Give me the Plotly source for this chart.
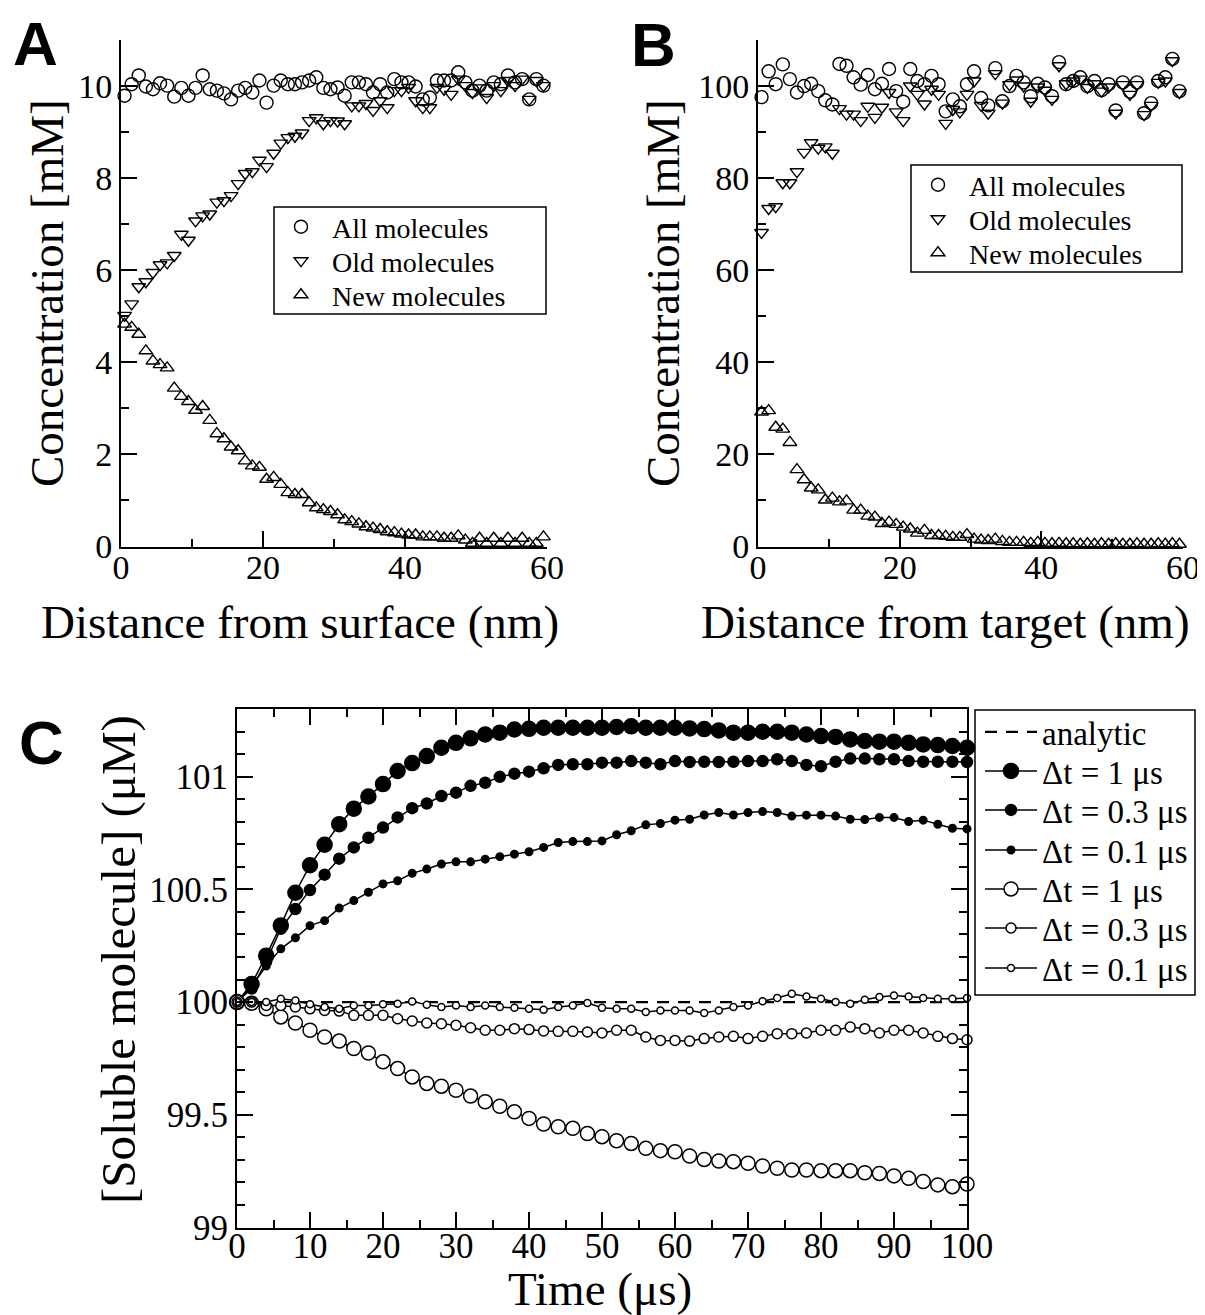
import numpy as np
import plotly.graph_objects as go

# ------------------------------- DATA -------------------------------- #
# Panel A : concentration (mM) vs distance from surface (nm), 1 nm bins
dist_a = np.arange(0.5, 60, 1.0)
conc_all_a = [9.79, 10.04, 10.23, 9.99, 9.93, 10.06, 10.01, 9.77, 9.96, 9.79,
              9.96, 10.23, 9.93, 9.90, 9.84, 9.71, 9.90, 9.96, 9.86, 10.12,
              9.64, 10.01, 10.12, 10.04, 10.04, 10.08, 10.12, 10.19, 9.96, 9.93,
              9.97, 9.79, 10.08, 10.08, 10.04, 9.86, 10.04, 9.86, 10.15, 10.08,
              10.08, 9.99, 9.71, 9.75, 10.12, 10.12, 10.12, 10.30, 10.08, 9.90,
              10.01, 9.90, 10.08, 10.04, 10.23, 10.08, 10.15, 9.71, 10.15, 10.01]
conc_old_a = [5.02, 5.27, 5.64, 5.75, 5.95, 6.12, 6.16, 6.32, 6.78, 6.65,
              7.07, 7.18, 7.22, 7.48, 7.51, 7.62, 7.88, 8.10, 8.14, 8.39,
              8.25, 8.54, 8.76, 8.88, 8.91, 8.98, 9.25, 9.31, 9.18, 9.25,
              9.24, 9.18, 9.57, 9.57, 9.62, 9.47, 9.68, 9.53, 9.90, 9.90,
              9.97, 9.68, 9.53, 9.53, 9.97, 9.93, 9.82, 10.15, 10.01, 9.86,
              9.96, 9.75, 10.01, 9.90, 10.12, 10.01, 10.15, 9.71, 10.12, 10.01]
conc_new_a = [4.83, 4.76, 4.61, 4.25, 4.03, 3.95, 3.88, 3.44, 3.26, 3.15,
              2.96, 3.04, 2.74, 2.45, 2.34, 2.16, 2.08, 1.86, 1.75, 1.72,
              1.46, 1.50, 1.35, 1.17, 1.13, 1.13, 0.95, 0.84, 0.80, 0.76,
              0.69, 0.58, 0.54, 0.49, 0.43, 0.40, 0.37, 0.32, 0.30, 0.27,
              0.25, 0.25, 0.21, 0.21, 0.21, 0.18, 0.18, 0.23, 0.14, 0.07,
              0.18, 0.07, 0.18, 0.07, 0.18, 0.07, 0.18, 0.07, 0.07, 0.21]

# Panel B : concentration (mM) vs distance from target (nm), 1 nm bins
dist_b = np.arange(0.5, 60, 1.0)
conc_all_b = [97.6, 103.2, 100.4, 104.7, 101.5, 98.6, 100.0, 100.5, 98.9, 96.9,
              96.0, 104.8, 104.4, 101.9, 100.3, 102.4, 99.3, 100.5, 103.7, 98.9,
              96.6, 103.7, 101.1, 100.4, 102.2, 100.4, 94.5, 97.1, 95.6, 100.4,
              103.2, 97.4, 95.8, 103.9, 96.7, 100.0, 102.2, 100.8, 97.8, 100.5,
              99.7, 97.8, 105.2, 100.4, 101.1, 101.9, 100.0, 101.1, 99.1, 100.4,
              94.7, 100.8, 98.8, 100.8, 94.1, 96.3, 101.1, 101.9, 105.9, 98.9]
conc_old_b = [68.2, 73.4, 73.8, 79.0, 79.0, 81.4, 85.6, 87.7, 86.5, 86.8,
              85.4, 95.1, 93.9, 93.9, 92.5, 95.6, 93.2, 95.4, 98.6, 94.4,
              92.5, 100.0, 98.2, 96.1, 99.3, 98.2, 91.9, 94.9, 94.4, 98.2,
              101.1, 95.8, 94.1, 102.7, 96.3, 100.3, 101.3, 100.0, 96.7, 99.8,
              99.1, 97.1, 104.4, 100.5, 101.1, 101.5, 99.7, 100.5, 98.9, 99.8,
              94.1, 100.3, 98.2, 100.3, 93.8, 95.8, 100.8, 101.1, 105.5, 98.6]
conc_new_b = [29.2, 29.5, 25.9, 25.5, 22.6, 16.7, 14.5, 12.7, 12.3, 10.1,
              10.5, 9.7, 9.9, 7.9, 7.9, 6.6, 6.4, 5.0, 5.3, 4.8,
              4.2, 3.8, 2.9, 3.5, 2.4, 2.4, 2.2, 2.0, 2.0, 2.6,
              1.6, 1.4, 1.3, 1.6, 1.1, 0.9, 0.9, 0.9, 0.7, 0.9,
              0.7, 0.6, 0.7, 0.6, 0.6, 0.5, 0.6, 0.5, 0.6, 0.5,
              0.6, 0.5, 0.5, 0.6, 0.5, 0.5, 0.6, 0.5, 0.6, 0.5]

# Panel C : soluble molecule (uM) vs time (us), every 2 us
time_c = np.arange(0, 101, 2)
analytic_t = [0, 100]
analytic_c = [100.0, 100.0]
filled_1 = [100.0, 100.08, 100.206, 100.34, 100.485, 100.607, 100.698, 100.789, 100.858, 100.912,
            100.967, 101.025, 101.06, 101.091, 101.128, 101.15, 101.17, 101.187, 101.195, 101.209,
            101.212, 101.217, 101.217, 101.217, 101.217, 101.217, 101.22, 101.223, 101.217, 101.217,
            101.217, 101.214, 101.211, 101.205, 101.195, 101.195, 101.199, 101.199, 101.195, 101.187,
            101.18, 101.176, 101.165, 101.158, 101.155, 101.155, 101.15, 101.143, 101.14, 101.136,
            101.128]
filled_03 = [100.0, 100.06, 100.18, 100.325, 100.413, 100.497, 100.565, 100.636, 100.686, 100.729,
             100.774, 100.819, 100.86, 100.881, 100.914, 100.929, 100.959, 100.973, 100.999, 101.013,
             101.022, 101.037, 101.052, 101.055, 101.055, 101.062, 101.062, 101.069, 101.062, 101.055,
             101.069, 101.065, 101.066, 101.065, 101.066, 101.069, 101.069, 101.077, 101.069, 101.052,
             101.046, 101.066, 101.08, 101.08, 101.077, 101.077, 101.069, 101.066, 101.066, 101.066,
             101.065]
filled_01 = [100.0, 100.07, 100.16, 100.236, 100.285, 100.339, 100.361, 100.417, 100.45, 100.487,
             100.524, 100.538, 100.571, 100.59, 100.612, 100.622, 100.622, 100.634, 100.645, 100.656,
             100.667, 100.686, 100.708, 100.712, 100.712, 100.715, 100.742, 100.76, 100.786, 100.792,
             100.807, 100.811, 100.83, 100.841, 100.83, 100.841, 100.845, 100.841, 100.825, 100.829,
             100.829, 100.825, 100.811, 100.81, 100.819, 100.819, 100.801, 100.807, 100.789, 100.771,
             100.768]
open_1 = [100.0, 99.995, 99.97, 99.934, 99.907, 99.875, 99.845, 99.827, 99.794, 99.774,
          99.735, 99.705, 99.668, 99.639, 99.627, 99.609, 99.583, 99.558, 99.538, 99.513,
          99.484, 99.459, 99.447, 99.44, 99.417, 99.403, 99.385, 99.373, 99.351, 99.341,
          99.336, 99.317, 99.302, 99.295, 99.292, 99.285, 99.273, 99.263, 99.255, 99.255,
          99.252, 99.252, 99.252, 99.243, 99.24, 99.229, 99.218, 99.204, 99.189, 99.181,
          99.193]
open_03 = [100.0, 100.0, 99.985, 99.985, 99.978, 99.97, 99.963, 99.96, 99.941, 99.941,
           99.941, 99.926, 99.916, 99.907, 99.904, 99.897, 99.886, 99.875, 99.875, 99.882,
           99.878, 99.872, 99.87, 99.87, 99.867, 99.863, 99.875, 99.875, 99.845, 99.83,
           99.83, 99.827, 99.838, 99.845, 99.848, 99.838, 99.848, 99.86, 99.86, 99.863,
           99.875, 99.875, 99.889, 99.882, 99.863, 99.875, 99.875, 99.863, 99.848, 99.838,
           99.833]
open_01 = [100.0, 100.0, 100.0, 100.015, 100.007, 99.99, 99.978, 99.97, 99.985, 99.985,
           99.99, 99.993, 100.003, 99.988, 99.978, 99.985, 99.978, 99.985, 99.978, 99.975,
           99.97, 99.966, 99.978, 99.985, 99.996, 99.975, 99.97, 99.97, 99.956, 99.963,
           99.963, 99.963, 99.951, 99.963, 99.978, 99.985, 100.004, 100.018, 100.037, 100.025,
           100.015, 100.0, 99.993, 100.01, 100.022, 100.029, 100.025, 100.018, 100.015, 100.015,
           100.018]

# ------------------------------ LAYOUT ------------------------------- #
# page body has an 8px margin, so the figure is shrunk by it and every
# position below is given in page pixels and shifted back
OFF = 8
W, H = 1205 - OFF, 1315 - OFF
SERIF = 'Liberation Serif'


def px(x):
    return (x - OFF) / W


def py(y):
    return 1 - (y - OFF) / H


fig = go.Figure()
legends = {}   # one legend per entry, so the entry rows can sit as tight as in the original
n_leg = [0]


def new_legend(x, y, size, itemwidth=52):
    n_leg[0] += 1
    key = 'legend' if n_leg[0] == 1 else 'legend%d' % n_leg[0]
    legends[key] = dict(x=px(x), y=py(y), xanchor='left', yanchor='middle',
                        font=dict(family=SERIF, size=size, color='black'),
                        bgcolor='rgba(0,0,0,0)', borderwidth=0, itemwidth=itemwidth)
    return key


# --------------------------- PANELS A & B ---------------------------- #
sym_args = [('All molecules', 'circle-open', 13),
            ('Old molecules', 'triangle-down-open', 12),
            ('New molecules', 'triangle-up-open', 12)]

panels_ab = [(dist_a, [conc_all_a, conc_old_a, conc_new_a], '', 270, [227, 261, 295]),
             (dist_b, [conc_all_b, conc_old_b, conc_new_b], '2', 907, [185, 219, 253])]
for xs, series, ax, leg_x, leg_ys in panels_ab:
    for (name, sym, size), ys, leg_y in zip(sym_args, series, leg_ys):
        fig.add_trace(go.Scatter(
            x=xs, y=ys, mode='markers', name=name, legend=new_legend(leg_x, leg_y, 28),
            xaxis='x' + ax, yaxis='y' + ax, cliponaxis=False,
            marker=dict(symbol=sym, size=size, color='black', line=dict(width=1.4, color='black'))))

# ------------------------------ PANEL C ------------------------------ #
c_leg_y = [732, 771, 810, 850, 889, 928, 968]
fig.add_trace(go.Scatter(
    x=analytic_t, y=analytic_c, mode='lines', name='analytic',
    legend=new_legend(980, c_leg_y[0], 33),
    xaxis='x3', yaxis='y3', line=dict(color='black', width=2.2, dash='12px,9px')))

c_series = [
    ('\u0394t = 1 \u03bcs', filled_1, 15, 'black'),
    ('\u0394t = 0.3 \u03bcs', filled_03, 11, 'black'),
    ('\u0394t = 0.1 \u03bcs', filled_01, 7.5, 'black'),
    ('\u0394t = 1 \u03bcs', open_1, 14, 'white'),
    ('\u0394t = 0.3 \u03bcs', open_03, 10, 'white'),
    ('\u0394t = 0.1 \u03bcs', open_01, 7, 'white'),
]
for (name, ys, size, fill), leg_y in zip(c_series, c_leg_y[1:]):
    fig.add_trace(go.Scatter(
        x=time_c, y=ys, mode='lines+markers', name=name,
        legend=new_legend(980, leg_y, 33),
        xaxis='x3', yaxis='y3', cliponaxis=False,
        line=dict(color='black', width=1.5),
        marker=dict(symbol='circle', size=size, color=fill, line=dict(width=1.5, color='black'))))

# ------------------------------- AXES -------------------------------- #
tick_font = dict(family=SERIF, size=34, color='black')


def axis_style(dom, rng, dtick, mdtick, mirror=False, lab_off=0):
    return dict(domain=dom, range=rng, dtick=dtick, tick0=rng[0], ticks='inside', ticklen=16,
                tickwidth=2, tickcolor='black', showline=True, linewidth=2, linecolor='black',
                mirror=mirror, showgrid=False, zeroline=False, tickfont=tick_font, automargin=False,
                ticklabelstandoff=lab_off,
                minor=dict(dtick=mdtick, ticks='inside', ticklen=8, tickwidth=2, tickcolor='black'))


fig.update_layout(
    xaxis=dict(axis_style([px(121), px(547)], [0, 60], 20, 10, lab_off=-10), anchor='y'),
    yaxis=dict(axis_style([py(546.5), py(40)], [0, 11], 2, 1), anchor='x'),
    xaxis2=dict(axis_style([px(758), px(1183)], [0, 60], 20, 10, lab_off=-10), anchor='y2'),
    yaxis2=dict(axis_style([py(546.5), py(40)], [0, 110], 20, 10), anchor='x2'),
    xaxis3=dict(axis_style([px(237), px(967)], [0, 100], 10, 5, 'allticks', lab_off=-14), anchor='y3'),
    yaxis3=dict(axis_style([py(1227.5), py(709)], [99, 101.3], 0.5, 0.1, 'allticks'), anchor='x3'),
)
fig.layout.yaxis3.tickfont.size = 35
fig.layout.xaxis3.tickfont.size = 35
fig.update_layout(**legends)

# legend frames
for x0, y0, x1, y1 in [(274, 207, 546, 314), (911, 165, 1182, 272), (975, 710, 1195, 995)]:
    fig.add_shape(type='rect', xref='paper', yref='paper', x0=px(x0), y0=py(y1), x1=px(x1), y1=py(y0),
                  line=dict(color='black', width=1.5), fillcolor='rgba(0,0,0,0)', layer='above')

# ---------------------------- ANNOTATIONS ---------------------------- #
title_font = dict(family=SERIF, size=47, color='black')
label_font = dict(family='Liberation Sans', size=62, color='black')
annots = [
    ('Distance from surface (nm)', 300, 622, 0, title_font),
    ('Distance from target (nm)', 945, 622, 0, title_font),
    ('Concentration [mM]', 47, 293, -90, title_font),
    ('Concentration [mM]', 663, 293, -90, title_font),
    ('[Soluble molecule] (\u03bcM)', 118, 960, -90, dict(title_font, size=49)),
    ('Time (\u03bcs)', 600, 1289, 0, title_font),
    ('<b>A</b>', 35, 44, 0, label_font),
    ('<b>B</b>', 653, 45, 0, label_font),
    ('<b>C</b>', 41, 742, 0, label_font),
]
for text, x, y, ang, font in annots:
    fig.add_annotation(text=text, x=px(x), y=py(y), xref='paper', yref='paper',
                       showarrow=False, textangle=ang, font=font,
                       xanchor='center', yanchor='middle')

fig.update_layout(width=W, height=H, autosize=False, margin=dict(l=0, r=0, t=0, b=0),
                  paper_bgcolor='white', plot_bgcolor='white', showlegend=True)

fig.write_html('out.html')
